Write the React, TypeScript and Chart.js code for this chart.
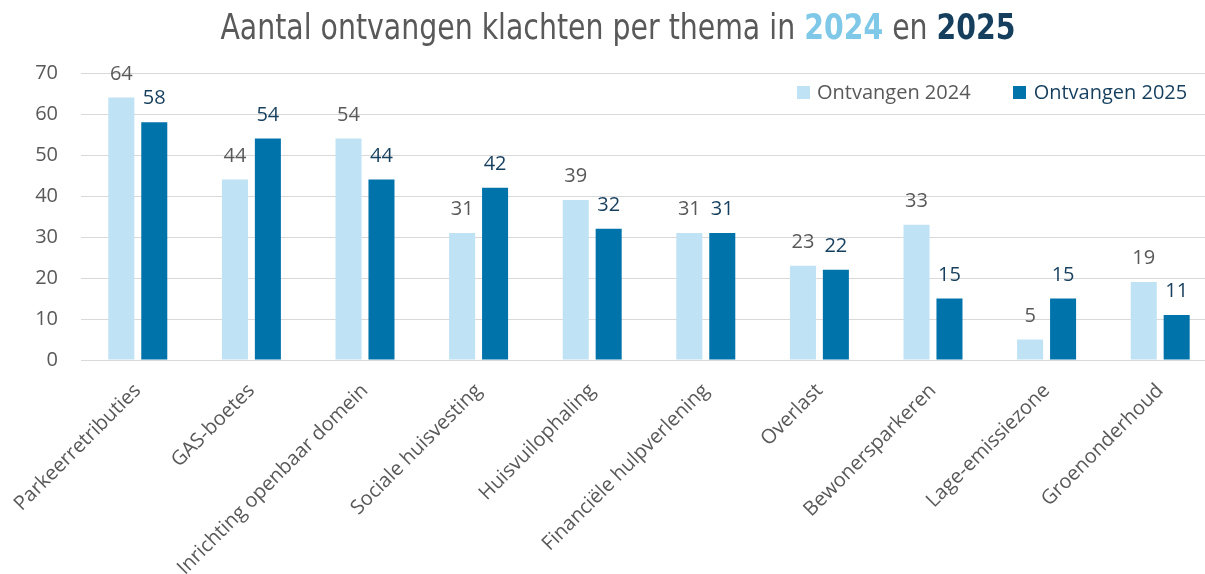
import React, { useEffect, useRef } from "react";
import { Chart, registerables } from "chart.js";

Chart.register(...registerables);

const categories = [
  "Parkeerretributies",
  "GAS-boetes",
  "Inrichting openbaar domein",
  "Sociale huisvesting",
  "Huisvuilophaling",
  "Financiële hulpverlening",
  "Overlast",
  "Bewonersparkeren",
  "Lage-emissiezone",
  "Groenonderhoud",
];
const values2024 = [64, 44, 54, 31, 39, 31, 23, 33, 5, 19];
const values2025 = [58, 54, 44, 42, 32, 31, 22, 15, 15, 11];
const seriesLabels = ["Ontvangen 2024", "Ontvangen 2025"];
const yMin = 0;
const yMax = 70;
const yStep = 10;

const COLOR_2024 = "#BFE2F5";
const COLOR_2025 = "#0073AA";
const TEXT_GRAY = "#595959";
const TEXT_NAVY = "#163F5E";
const FONT = "'Open Sans', 'Liberation Sans', sans-serif";

const valueLabelPlugin = {
  id: "valueLabels",
  afterDatasetsDraw(chart: any) {
    const ctx = chart.ctx;
    ctx.save();
    ctx.font = `20px ${FONT}`;
    ctx.textAlign = "center";
    ctx.textBaseline = "alphabetic";
    chart.data.datasets.forEach((ds: any, di: number) => {
      const meta = chart.getDatasetMeta(di);
      ctx.fillStyle = di === 0 ? TEXT_GRAY : TEXT_NAVY;
      meta.data.forEach((bar: any, i: number) => {
        ctx.fillText(String(ds.data[i]), bar.x, bar.y - 18);
      });
    });
    ctx.restore();
  },
};

export default function App() {
  const ref = useRef<HTMLCanvasElement | null>(null);

  useEffect(() => {
    if (!ref.current) return;
    const chart = new Chart(ref.current, {
      type: "bar",
      data: {
        labels: categories,
        datasets: [
          {
            label: seriesLabels[0],
            data: values2024,
            backgroundColor: COLOR_2024,
            categoryPercentage: 0.58,
            barPercentage: 0.79,
          },
          {
            label: seriesLabels[1],
            data: values2025,
            backgroundColor: COLOR_2025,
            categoryPercentage: 0.58,
            barPercentage: 0.79,
          },
        ],
      },
      options: {
        responsive: false,
        animation: false,
        layout: { padding: { top: 73, right: 23, left: 0, bottom: 0 } },
        plugins: {
          legend: { display: false },
          title: { display: false },
          tooltip: { enabled: false },
        },
        scales: {
          x: {
            grid: { display: false },
            border: { display: false },
            ticks: {
              color: TEXT_GRAY,
              font: { family: FONT, size: 20 },
              maxRotation: 45,
              minRotation: 45,
              padding: 11,
              autoSkip: false,
            },
            afterFit(scale: any) {
              scale.height = 214;
            },
          },
          y: {
            min: yMin,
            max: yMax,
            grid: { color: "#D9D9D9", lineWidth: 1, drawTicks: false },
            border: { display: false },
            ticks: {
              stepSize: yStep,
              color: TEXT_GRAY,
              font: { family: FONT, size: 20 },
              padding: 23,
            },
            afterFit(scale: any) {
              scale.width = 81;
            },
          },
        },
      },
      plugins: [valueLabelPlugin],
    });
    return () => chart.destroy();
  }, []);

  return (
    <div
      style={{
        position: "fixed",
        left: 0,
        top: 0,
        width: 1205,
        height: 574,
        overflow: "hidden",
        background: "#fff",
      }}
    >
      <div style={{ position: "relative", width: 1240, height: 574 }}>
        <canvas ref={ref} width={1240} height={574} style={{ display: "block" }} />
        <div
          style={{
            position: "absolute",
            left: 0,
            top: 5,
            width: 1236,
            textAlign: "center",
            fontFamily: "'Liberation Sans Narrow', 'DejaVu Sans Condensed', sans-serif",
            fontSize: 36,
            color: TEXT_GRAY,
            whiteSpace: "nowrap",
            lineHeight: "44px",
            transform: "scaleX(0.876)",
            transformOrigin: "center",
          }}
        >
          Aantal ontvangen klachten per thema in{" "}
          <span style={{ color: "#7FC8E8", fontWeight: 700 }}>2024</span> en{" "}
          <span style={{ color: TEXT_NAVY, fontWeight: 700 }}>2025</span>
        </div>
        <div
          style={{
            position: "absolute",
            left: 797,
            top: 80,
            display: "flex",
            alignItems: "center",
            fontFamily: FONT,
            fontSize: 20,
            whiteSpace: "nowrap",
            lineHeight: "24px",
          }}
        >
          <span style={{ width: 13, height: 13, background: COLOR_2024, display: "inline-block", marginRight: 7 }} />
          <span style={{ color: TEXT_GRAY, marginRight: 42 }}>{seriesLabels[0]}</span>
          <span style={{ width: 13, height: 13, background: COLOR_2025, display: "inline-block", marginRight: 8 }} />
          <span style={{ color: TEXT_NAVY }}>{seriesLabels[1]}</span>
        </div>
      </div>
    </div>
  );
}
